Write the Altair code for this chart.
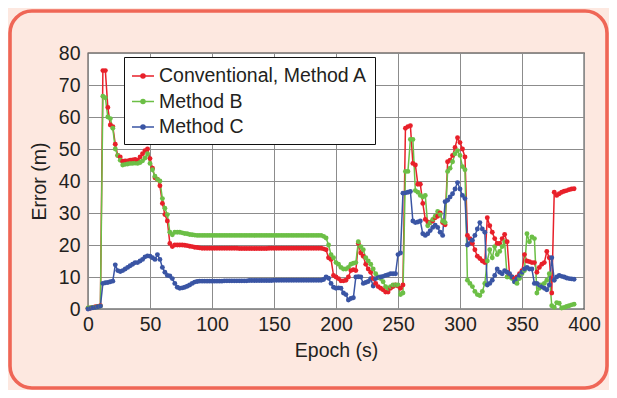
import altair as alt
import pandas as pd

epochs = list(range(0, 393, 2))

conv_a = [
    0.2, 0.3, 0.5, 0.7, 0.8, 1.0, 74.5, 74.5, 63.0, 57.5,
    57.0, 51.5, 48.0, 47.5, 46.2, 46.3, 46.3, 46.5, 46.6, 46.7,
    46.5, 47.5, 48.5, 49.5, 50.0, 47.0, 44.0, 41.0, 40.5, 38.5,
    33.0, 29.5, 27.5, 20.5, 19.5, 20.0, 20.0, 20.0, 20.0, 19.9,
    19.8, 19.6, 19.5, 19.3, 19.2, 19.1, 19.0, 19.0, 19.0, 19.0,
    19.0, 19.0, 19.0, 19.0, 19.0, 19.0, 19.0, 19.0, 19.0, 19.0,
    19.0, 18.9, 18.9, 18.9, 18.9, 18.9, 18.9, 18.9, 18.9, 18.9,
    18.9, 18.9, 18.9, 19.0, 19.0, 19.0, 19.0, 19.0, 19.0, 19.0,
    19.0, 19.0, 19.0, 19.0, 19.0, 19.0, 19.0, 19.0, 19.0, 19.0,
    19.0, 19.0, 19.0, 19.0, 19.0, 18.8, 18.5, 16.0, 15.5, 10.5,
    10.0, 9.5, 8.8, 8.8, 9.0, 10.0, 12.0, 12.3, 12.0, 20.5,
    17.5, 16.5, 14.0, 12.5, 11.5, 9.5, 8.0, 7.0, 6.5, 6.0,
    5.3, 5.3, 6.5, 7.0, 7.5, 7.2, 6.5, 7.5, 56.5, 57.0,
    57.3, 45.5, 45.0, 39.0, 39.0, 33.0, 28.0, 27.2, 27.0, 27.5,
    28.5, 29.0, 30.0, 27.0, 26.3, 46.0, 46.5, 48.0, 50.5, 53.5,
    52.0, 50.0, 47.5, 23.0, 22.0, 20.5, 18.5, 16.5, 15.8, 15.0,
    14.5, 28.5, 26.0, 24.0, 22.0, 20.5, 20.5, 22.0, 23.3, 21.0,
    10.5, 10.0, 9.5, 10.0, 11.0, 12.0, 17.0, 15.0, 14.8, 14.5,
    14.5, 11.5, 13.0, 14.0, 14.5, 18.0, 16.0, 5.0, 36.5, 35.5,
    36.0, 36.5, 36.8, 37.0, 37.3, 37.5, 37.6,
]

method_b = [
    0.3, 0.4, 0.5, 0.6, 0.7, 0.9, 66.5, 66.0, 60.0, 59.5,
    56.5, 50.0, 48.0, 46.5, 45.0, 45.2, 45.3, 45.5, 45.5, 45.6,
    45.5, 45.8, 46.3, 47.2, 48.5, 45.5, 43.5, 41.5, 40.5, 40.0,
    34.5, 31.5, 29.5, 24.0, 23.2, 24.0, 24.0, 24.0, 23.8, 23.6,
    23.5, 23.3, 23.2, 23.1, 23.0, 23.0, 23.0, 23.0, 23.0, 23.0,
    23.0, 23.0, 23.0, 23.0, 23.0, 23.0, 23.0, 23.0, 23.0, 23.0,
    23.0, 23.0, 23.0, 23.0, 23.0, 23.0, 23.0, 23.0, 23.0, 23.0,
    23.0, 23.0, 23.0, 23.0, 23.0, 23.0, 23.0, 23.0, 23.0, 23.0,
    23.0, 23.0, 23.0, 23.0, 23.0, 23.0, 23.0, 23.0, 23.0, 23.0,
    23.0, 23.0, 23.0, 23.0, 23.0, 22.7, 22.2, 20.0, 17.0, 16.0,
    14.5, 14.0, 13.0, 12.5, 12.5, 13.0, 14.0, 14.3, 14.5, 21.0,
    19.5, 18.5, 16.0, 15.0, 14.0, 12.5, 11.0, 10.0, 9.5, 8.5,
    7.0, 6.5, 7.0, 7.5, 7.5, 7.5, 4.5, 5.0, 43.0, 43.0,
    53.0, 53.0, 37.0, 36.5, 35.5, 35.0, 35.5, 26.0, 27.0, 28.0,
    29.0, 30.5, 29.5, 27.5, 27.0, 43.0, 44.0, 46.0, 48.5, 49.5,
    48.0, 44.5, 43.5, 9.0, 8.0, 7.0, 5.5, 4.5, 4.2, 5.5,
    8.0, 15.0, 18.5, 16.0, 19.5, 17.0, 18.0, 19.5, 21.0, 10.0,
    10.0, 9.5, 8.5, 8.0, 9.5, 11.0, 12.0, 23.5, 21.0, 22.5,
    22.0, 5.0, 6.5, 7.5, 8.0, 9.0, 11.0, 1.0, 0.5, 2.0,
    1.8, 0.3, 0.5, 0.8, 1.0, 1.3, 1.5,
]

method_c = [
    0.0, 0.2, 0.4, 0.5, 0.7, 0.9, 8.0, 8.2, 8.3, 8.5,
    8.7, 13.8, 12.0, 11.7, 12.0, 12.5, 13.0, 13.5, 14.0, 14.5,
    14.5, 15.0, 15.5, 16.3, 16.6, 16.5, 16.0, 15.5, 17.0, 15.5,
    13.0, 11.5, 10.5, 10.3, 9.5, 8.0, 6.8, 6.5, 6.6, 6.8,
    7.1, 7.5, 8.0, 8.4, 8.6, 8.7, 8.7, 8.7, 8.7, 8.7,
    8.7, 8.7, 8.7, 8.7, 8.7, 8.8, 8.8, 8.8, 8.8, 8.8,
    8.8, 8.8, 8.8, 8.8, 8.8, 8.9, 8.9, 8.9, 8.9, 8.9,
    8.9, 8.9, 8.9, 8.9, 8.9, 9.0, 9.0, 9.0, 9.0, 9.0,
    9.0, 9.0, 9.0, 9.0, 9.0, 9.0, 9.0, 9.0, 9.0, 9.0,
    9.0, 9.0, 9.0, 9.0, 9.0, 9.2, 10.0, 9.6, 8.0, 6.8,
    6.5, 6.6, 6.5, 5.0, 4.5, 2.8, 3.3, 3.5, 10.0, 10.1,
    10.0, 8.0, 8.3, 8.6, 9.5, 7.2, 9.5, 9.8, 10.0, 10.2,
    10.5, 10.7, 11.0, 11.0, 11.0, 17.0, 17.5, 36.2, 36.3, 36.5,
    36.7, 27.5, 27.0, 27.2, 27.5, 23.5, 23.0, 23.5, 24.5, 25.5,
    26.2, 25.5, 24.0, 23.0, 33.5, 34.0, 35.0, 36.0, 37.5, 39.5,
    37.5, 35.5, 34.5, 20.0, 20.5, 21.5, 23.0, 25.0, 27.0, 25.0,
    24.0, 7.5, 8.0, 9.0, 10.5, 12.5, 11.5, 11.0, 12.0, 11.5,
    11.0, 10.0, 8.5, 9.5, 10.5, 11.5, 12.5, 13.0, 12.5, 12.5,
    8.0, 8.0, 7.5, 7.0, 6.5, 6.0, 7.5, 16.0, 9.0, 10.0,
    10.5, 10.2, 10.0, 9.7, 9.5, 9.4, 9.3,
]

series_names = ["Conventional, Method A", "Method B", "Method C"]
series_colors = ["#e8202a", "#6cbf46", "#3a55a4"]
x_ticks = [0, 50, 100, 150, 200, 250, 300, 350, 400]
y_ticks = [0, 10, 20, 30, 40, 50, 60, 70, 80]

rows = []
for name, vals in zip(series_names, [conv_a, method_b, method_c]):
    assert len(vals) == len(epochs), (name, len(vals))
    for t, v in zip(epochs, vals):
        rows.append({"series": name, "epoch": t, "error": v})
df = pd.DataFrame(rows)

W, H = 496, 256
FONT = "Liberation Sans"
FS = 19.5
legend_symbol = "M-1,0H1M-0.18,0A0.18,0.18 0 1,0 0.18,0A0.18,0.18 0 1,0 -0.18,0Z"

lines = alt.Chart(df).mark_line(
    strokeWidth=1.5,
    point=alt.OverlayMarkDef(filled=True, size=24, opacity=1),
).encode(
    x=alt.X("epoch:Q", scale=alt.Scale(domain=[0, 400], nice=False),
            axis=alt.Axis(values=x_ticks, title="Epoch (s)", labelFlush=False)),
    y=alt.Y("error:Q", scale=alt.Scale(domain=[0, 80], nice=False),
            axis=alt.Axis(values=y_ticks, title="Error (m)", labelFlush=False)),
    color=alt.Color("series:N",
                    scale=alt.Scale(domain=series_names, range=series_colors),
                    legend=alt.Legend(
                        title=None, orient="none", legendX=36, legendY=4,
                        symbolType=legend_symbol, symbolSize=484,
                        symbolStrokeWidth=1.6, labelFont=FONT, labelFontSize=FS,
                        labelColor="#231f20", labelLimit=400, labelOffset=4,
                        labelExpr="datum.label + '\u00a0\u00a0'",
                        padding=7, rowPadding=3.5, strokeColor="#111",
                        fillColor="white")),
    order=alt.Order("epoch:Q"),
)

frame = alt.Chart(pd.DataFrame({"k": [0]})).mark_rect(
    cornerRadius=22, fillOpacity=0, stroke="#ef6656", strokeWidth=3.6, clip=False
).encode(
    x=alt.value(-78), x2=alt.value(519), y=alt.value(-42), y2=alt.value(335)
)

chart = alt.layer(lines, frame).properties(
    width=W, height=H,
    autosize=alt.AutoSizeParams(type="none"),
    padding={"left": 80, "top": 45, "right": 25, "bottom": 81},
).configure(
    background="#fde8e0",
).configure_view(
    fill="white", stroke="#333", strokeWidth=1.3,
).configure_axis(
    grid=True, gridColor="#8c8c8c", gridWidth=1, gridOpacity=1,
    domain=False, ticks=False,
    labelFont=FONT, labelFontSize=FS, labelColor="#231f20", labelPadding=6,
    titleFont=FONT, titleFontSize=FS, titleFontWeight="normal", titleColor="#231f20",
).configure_axisY(titlePadding=9, labelPadding=8).configure_axisX(titlePadding=8)

chart.save("out.html", embed_options={"renderer": "svg", "actions": False})
